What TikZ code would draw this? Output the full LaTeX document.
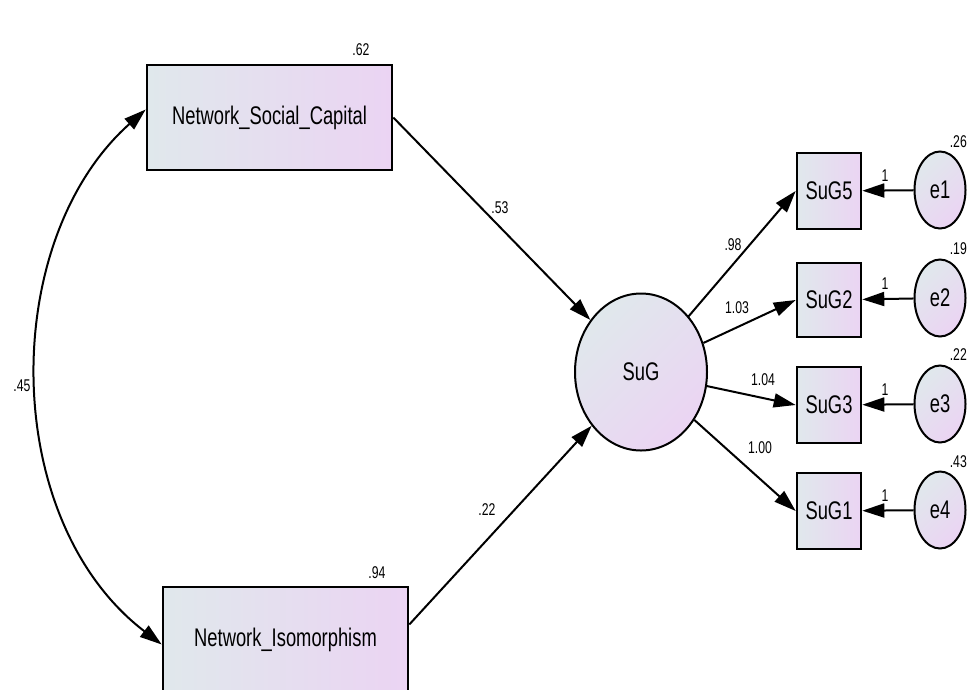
\documentclass[tikz,border=0pt]{standalone}
\usepackage{fontspec}
\usetikzlibrary{arrows.meta,shapes.geometric}
\newfontfamily\amos{Liberation Sans}[FakeStretch=0.72]
\definecolor{gl}{RGB}{224,232,236}
\definecolor{gr}{RGB}{235,212,243}
\tikzset{
  obs/.style={draw=black,line width=2.6pt,rectangle,left color=gl,right color=gr,inner sep=0pt,font=\amos\fontsize{25.5}{25.5}\selectfont},
  lat/.style={draw=black,line width=2pt,ellipse,shading=axis,left color=gl,right color=gr,shading angle=45,inner sep=0pt,font=\amos\fontsize{25.5}{25.5}\selectfont},
  arr/.style={line width=2pt,-{Triangle[length=22pt,width=14pt]}},
  darr/.style={line width=2pt,{Triangle[length=22pt,width=14pt]}-{Triangle[length=22pt,width=14pt]}},
  lbl/.style={font=\amos\fontsize{17}{17}\selectfont,inner sep=0pt}
}
\begin{document}
\begin{tikzpicture}[x=1pt,y=-1pt]
\useasboundingbox (0,0) rectangle (969,689);
\clip (0,0) rectangle (969,689);
\fill[white] (0,0) rectangle (969,689);
\node[obs,minimum width=245pt,minimum height=105pt] (nsc) at (269.5,117.5) {Network\_Social\_Capital};
\node[obs,minimum width=245pt,minimum height=105pt] (ni) at (285.5,639.5) {Network\_Isomorphism};
\node[lat,minimum width=132pt,minimum height=157pt] (sug) at (641,372) {SuG};
\node[obs,minimum width=64pt,minimum height=76pt] (s5) at (829,191) {SuG5};
\node[obs,minimum width=64pt,minimum height=74pt] (s2) at (829,300) {SuG2};
\node[obs,minimum width=64pt,minimum height=76pt] (s3) at (829,405) {SuG3};
\node[obs,minimum width=64pt,minimum height=76pt] (s1) at (829,511) {SuG1};
\node[lat,minimum width=51pt,minimum height=77pt] (e1) at (940,190) {e1};
\node[lat,minimum width=51pt,minimum height=77pt] (e2) at (940,298) {e2};
\node[lat,minimum width=51pt,minimum height=77pt] (e3) at (940,404) {e3};
\node[lat,minimum width=51pt,minimum height=77pt] (e4) at (940,510) {e4};
% paths
\draw[arr] (nsc.east) -- (sug);
\draw[arr] ([yshift=15pt]ni.east) -- (sug);
\draw[arr] (sug) -- (s5.west);
\draw[arr] (sug) -- (s2.west);
\draw[arr] (sug) -- (s3.west);
\draw[arr] (sug) -- (s1.west);
\draw[arr] (e1) -- (s5);
\draw[arr] (e2) -- (s2);
\draw[arr] (e3) -- (s3);
\draw[arr] (e4) -- (s1);
\draw[darr] ([yshift=8pt]nsc.west) .. controls (-1,240) and (-1,520) .. ([yshift=-5pt]ni.west);
% labels
\node[lbl] (v1) at (361,50) {.62};
\node[lbl] (v2) at (377,573) {.94};
\node[lbl] (c) at (22,386) {.45};
\node[lbl] (p1) at (500,208) {.53};
\node[lbl] (p2) at (487,510) {.22};
\node[lbl] (l1) at (733,245) {.98};
\node[lbl] (l2) at (737,308) {1.03};
\node[lbl] (l3) at (763,380) {1.04};
\node[lbl] (l4) at (760,448) {1.00};
\node[lbl] (o1) at (885,176) {1};
\node[lbl] (o2) at (885,284) {1};
\node[lbl] (o3) at (885,390) {1};
\node[lbl] (o4) at (885,496) {1};
\node[lbl,anchor=east] (ev1) at (967,142) {.26};
\node[lbl,anchor=east] (ev2) at (967,249) {.19};
\node[lbl,anchor=east] (ev3) at (967,355) {.22};
\node[lbl,anchor=east] (ev4) at (967,462) {.43};
\end{tikzpicture}
\end{document}
